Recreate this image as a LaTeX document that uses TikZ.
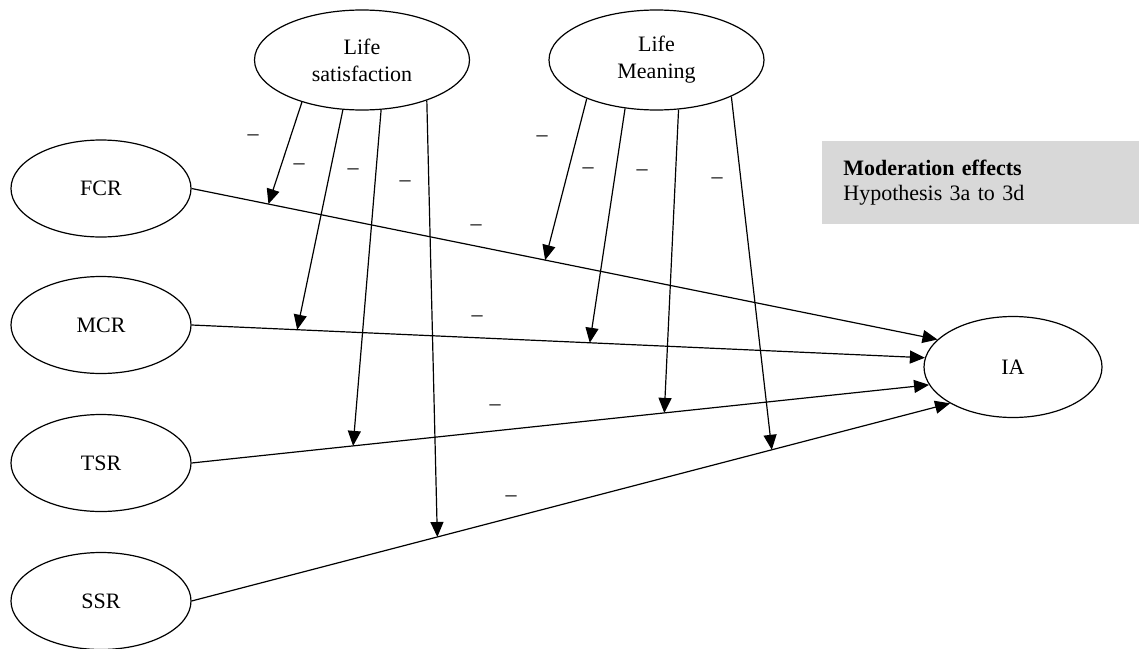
\documentclass[tikz,border=0pt]{standalone}
\usepackage{fontspec}
\setmainfont{Liberation Serif}
\usetikzlibrary{arrows.meta,shapes.geometric}

\begin{document}
\begin{tikzpicture}[x=0.5pt,y=-0.5pt,
    construct/.style={shape=ellipse,draw,line width=0.6pt,inner sep=0pt,minimum width=90pt,minimum height=48.5pt,align=center,font=\fontsize{11}{13.5}\selectfont},
    moderator/.style={construct,minimum width=107.5pt,minimum height=50pt},
    link/.style={line width=0.6pt,-{Triangle[length=7.5pt,width=6.5pt]}},
    sign/.style={inner sep=0pt,font=\fontsize{11}{13}\selectfont}]
    \definecolor{modbox_bg}{RGB}{216,216,216}
    \useasboundingbox (0,0) rectangle (1139,648);
    \node[moderator] (ls) at (362,60) {Life\\satisfaction};
    \node[moderator] (lm) at (656.5,60) {Life\\Meaning};
    \node[construct] (fcr) at (101,188.5) {FCR};
    \node[construct] (mcr) at (101,325) {MCR};
    \node[construct] (tsr) at (101,463) {TSR};
    \node[construct] (ssr) at (101,601) {SSR};
    \node[construct,minimum width=89pt,minimum height=50.5pt] (ia) at (1013,367) {IA};
    \node[shape=rectangle,fill=modbox_bg,anchor=north west,inner xsep=10.5pt,text width=137.5pt,minimum height=41.5pt,align=left,font=\fontsize{11}{12.5}\selectfont] (modbox) at (822,141) {\textbf{Moderation effects}\\Hypothesis 3a to 3d};
    \draw[link] (fcr.east) -- coordinate[pos=0.103] (fcr-ls) coordinate[pos=0.474] (fcr-lm) (ia.160);
    \draw[link] (mcr.east) -- coordinate[pos=0.144] (mcr-ls) coordinate[pos=0.543] (mcr-lm) (ia.174);
    \draw[link] (tsr.east) -- coordinate[pos=0.219] (tsr-ls) coordinate[pos=0.641] (tsr-lm) (ia.192);
    \draw[link] (ssr.east) -- coordinate[pos=0.324] (ssr-ls) coordinate[pos=0.765] (ssr-lm) (ia.210);
    \draw[link] (ls.215) -- (fcr-ls);
    \draw[link] (ls.249) -- (mcr-ls);
    \draw[link] (ls.291) -- (tsr-ls);
    \draw[link] (ls.328) -- (ssr-ls);
    \draw[link] (lm.209) -- (fcr-lm);
    \draw[link] (lm.237) -- (mcr-lm);
    \draw[link] (lm.294) -- (tsr-lm);
    \draw[link] (lm.334) -- (ssr-lm);
    \node[sign] (ls-sign1) at (253,138) {--};
    \node[sign] (ls-sign2) at (299,167) {--};
    \node[sign] (ls-sign3) at (353,172) {--};
    \node[sign] (ls-sign4) at (405,184) {--};
    \node[sign] (lm-sign1) at (542,139) {--};
    \node[sign] (lm-sign2) at (588,171) {--};
    \node[sign] (lm-sign3) at (642,173) {--};
    \node[sign] (lm-sign4) at (717,181) {--};
    \node[sign] (fcr-sign) at (476,228) {--};
    \node[sign] (mcr-sign) at (477,319) {--};
    \node[sign] (tsr-sign) at (495,408) {--};
    \node[sign] (ssr-sign) at (511,499) {--};
\end{tikzpicture}
\end{document}
